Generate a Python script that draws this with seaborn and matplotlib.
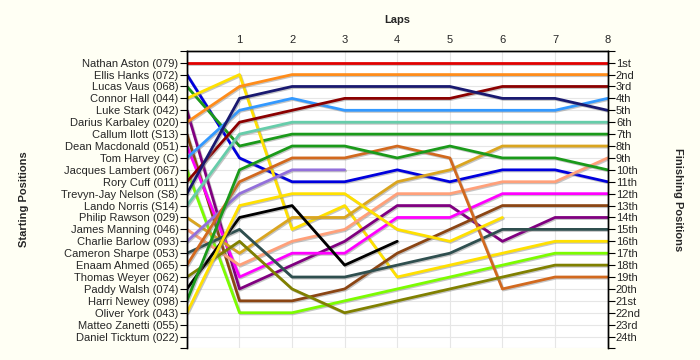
import pandas as pd
import seaborn as sns
import matplotlib.pyplot as plt
import matplotlib.patheffects as pe

# drivers in starting order (grid position 1..24)
drivers = [
    "Nathan Aston (079)", "Ellis Hanks (072)", "Lucas Vaus (068)", "Connor Hall (044)",
    "Luke Stark (042)", "Darius Karbaley (020)", "Callum Ilott (S13)", "Dean Macdonald (051)",
    "Tom Harvey (C)", "Jacques Lambert (067)", "Rory Cuff (011)", "Trevyn-Jay Nelson (S8)",
    "Lando Norris (S14)", "Philip Rawson (029)", "James Manning (046)", "Charlie Barlow (093)",
    "Cameron Sharpe (053)", "Enaam Ahmed (065)", "Thomas Weyer (062)", "Paddy Walsh (074)",
    "Harri Newey (098)", "Oliver York (043)", "Matteo Zanetti (055)", "Daniel Ticktum (022)",
]
finish_labels = [
    "1st", "2nd", "3rd", "4th", "5th", "6th", "7th", "8th", "9th", "10th", "11th", "12th",
    "13th", "14th", "15th", "16th", "17th", "18th", "19th", "20th", "21st", "22nd", "23rd", "24th",
]
lap_labels = ["", "1", "2", "3", "4", "5", "6", "7", "8"]

# position after each lap (lap 0 = grid)
aston = [1, 1, 1, 1, 1, 1, 1, 1, 1]
hanks = [2, 9, 11, 11, 10, 11, 10, 10, 11]
vaus = [3, 8, 7, 7, 7, 7, 7, 7, 7]
hall = [4, 2, 15, 13, 19, 18, 17, 16, 16]
stark = [5, 20, 18, 16, 13, 13, 16, 14, 14]
karbaley = [6, 3, 2, 2, 2, 2, 2, 2, 2]
ilott = [7, 21, 21, 20, 17, 15, 13, 13, 13]
macdonald = [8, 19, 17, 17, 14, 14, 12, 12, 12]
harvey = [9, 5, 4, 5, 5, 5, 5, 5, 4]
lambert = [10, 22, 22, 21, 20, 19, 18, 17, 17]
cuff = [11, 6, 5, 4, 4, 4, 3, 3, 3]
nelson = [12, 4, 3, 3, 3, 3, 4, 4, 5]
norris = [13, 7, 6, 6, 6, 6, 6, 6, 6]
rawson = [14, 17, 14, 14, 11, 10, 8, 8, 8]
manning = [15, 18, 16, 15, 12, 12, 11, 11, 9]
barlow = [16, 12, 10, 10]
sharpe = [17, 15, 19, 19, 18, 17, 15, 15, 15]
ahmed = [18, 11, 9, 9, 8, 9, 20, 19, 19]
weyer = [19, 16, 20, 22, 21, 20, 19, 18, 18]
walsh = [20, 14, 13, 18, 16]
newey = [21, 10, 8, 8, 9, 8, 9, 9, 10]
york = [22, 13, 12, 12, 15, 16, 14]

series = {
    "Nathan Aston (079)": aston, "Ellis Hanks (072)": hanks, "Lucas Vaus (068)": vaus,
    "Connor Hall (044)": hall, "Luke Stark (042)": stark, "Darius Karbaley (020)": karbaley,
    "Callum Ilott (S13)": ilott, "Dean Macdonald (051)": macdonald, "Tom Harvey (C)": harvey,
    "Jacques Lambert (067)": lambert, "Rory Cuff (011)": cuff, "Trevyn-Jay Nelson (S8)": nelson,
    "Lando Norris (S14)": norris, "Philip Rawson (029)": rawson, "James Manning (046)": manning,
    "Charlie Barlow (093)": barlow, "Cameron Sharpe (053)": sharpe, "Enaam Ahmed (065)": ahmed,
    "Thomas Weyer (062)": weyer, "Paddy Walsh (074)": walsh, "Harri Newey (098)": newey,
    "Oliver York (043)": york,
}

colors = {
    "Nathan Aston (079)": "#E00000", "Ellis Hanks (072)": "#0000DD", "Lucas Vaus (068)": "#1A9A1A",
    "Connor Hall (044)": "#FFE000", "Luke Stark (042)": "#800080", "Darius Karbaley (020)": "#FF8C1A",
    "Callum Ilott (S13)": "#8B4513", "Dean Macdonald (051)": "#FF00FF", "Tom Harvey (C)": "#3399FF",
    "Jacques Lambert (067)": "#7CFC00", "Rory Cuff (011)": "#8B0000", "Trevyn-Jay Nelson (S8)": "#191970",
    "Lando Norris (S14)": "#66CDAA", "Philip Rawson (029)": "#DAA520", "James Manning (046)": "#FFA07A",
    "Charlie Barlow (093)": "#9370DB", "Cameron Sharpe (053)": "#2F4F4F", "Enaam Ahmed (065)": "#D2691E",
    "Thomas Weyer (062)": "#808000", "Paddy Walsh (074)": "#000000", "Harri Newey (098)": "#1A9A1A",
    "Oliver York (043)": "#FFE000",
}

rows = []
for name, pos in series.items():
    for lap, p in enumerate(pos):
        rows.append({"driver": name, "lap": lap, "pos": p})
df = pd.DataFrame(rows)

sns.set_style("white")
plt.rcParams["font.family"] = ["Liberation Sans", "DejaVu Sans"]

fig = plt.figure(figsize=(7, 3.6), dpi=100, facecolor="#FFFFF4")
ax = fig.add_axes([0.267, 0.032, 0.601, 0.827])
ax.set_facecolor("white")

sns.lineplot(data=df, x="lap", y="pos", hue="driver", palette=colors, estimator=None,
             legend=False, linewidth=2, ax=ax)
for line in ax.get_lines():
    line.set_path_effects([pe.SimpleLineShadow(offset=(0.8, -0.8), shadow_color="gray", alpha=0.45),
                           pe.Normal()])

ax.set_xlim(0, 8)
ax.set_ylim(25, 0)
ax.grid(True, color="#E6E6E6", linewidth=0.8)
ax.set_axisbelow(True)

ax.xaxis.tick_top()
ax.set_xticks(range(9))
ax.set_xticklabels(lap_labels, fontsize=8)
ax.tick_params(axis="x", length=0, pad=4)
ax.xaxis.set_label_position("top")
ax.set_xlabel("Laps", fontsize=8, fontweight="bold", labelpad=9)

ax.set_yticks(range(26))
ax.set_yticklabels([""] + drivers + [""], fontsize=8)
ax.tick_params(axis="y", length=5, width=0.8, color="black", pad=1, direction="out")
ax.set_ylabel("Starting Positions", fontsize=8, fontweight="bold", labelpad=23)

ax2 = ax.twinx()
ax2.set_ylim(25, 0)
ax2.set_yticks(range(26))
ax2.set_yticklabels([""] + finish_labels + [""], fontsize=8)
ax2.tick_params(axis="y", length=5, width=0.8, color="black", pad=1, direction="out")
ax2.set_ylabel("Finishing Positions", fontsize=8, fontweight="bold", rotation=270, labelpad=30)

for a in (ax, ax2):
    for side in ("left", "right", "top"):
        a.spines[side].set_visible(True)
        a.spines[side].set_color("black")
        a.spines[side].set_linewidth(1)
    a.spines["bottom"].set_visible(False)

fig.savefig("out.png", dpi=100, facecolor=fig.get_facecolor())
